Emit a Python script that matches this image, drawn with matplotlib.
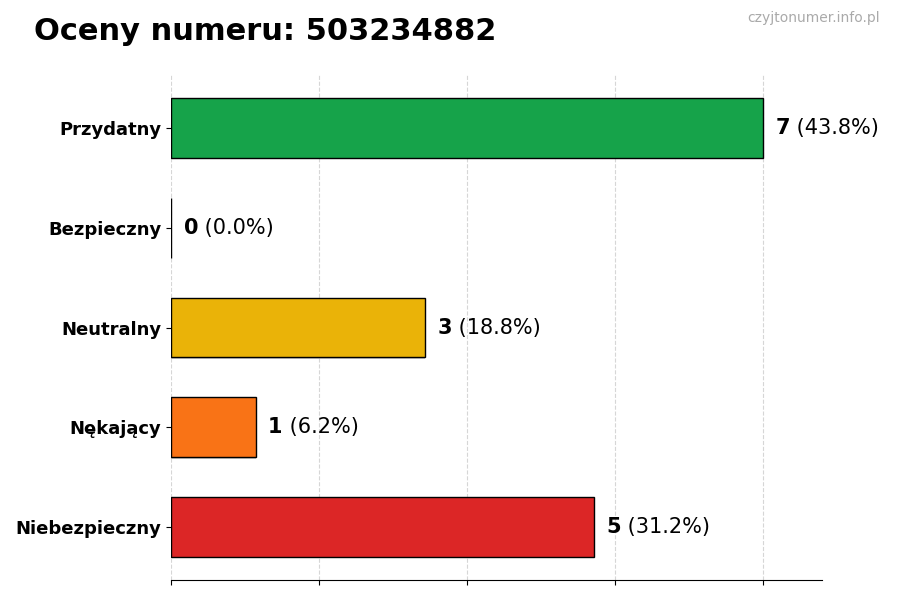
import matplotlib
matplotlib.use("Agg")
import matplotlib.pyplot as plt
import matplotlib.patheffects as pe

categories = ["Przydatny", "Bezpieczny", "Neutralny", "Nękający", "Niebezpieczny"]
counts = [7, 0, 3, 1, 5]
colors = ["#16a34a", "#16a34a", "#eab308", "#f97316", "#dc2626"]
title = "Oceny numeru: 503234882"
watermark = "czyjtonumer.info.pl"

total = sum(counts)
fig = plt.figure(figsize=(9, 6), dpi=100)
ax = fig.add_axes([0.19, 0.0333, 0.723, 0.8417])

ypos = list(range(len(categories)))[::-1]
bars = ax.barh(ypos, counts, height=0.6, color=colors, edgecolor="black", linewidth=1, zorder=3)
for b in bars:
    b.set_path_effects([pe.SimplePatchShadow(offset=(0, -1), shadow_rgbFace="#999999", alpha=0.5), pe.Normal()])

xmax = max(counts) * 1.1
ax.set_xlim(0, xmax)
ax.set_xticks([0, 1.75, 3.5, 5.25, 7])
ax.set_xticklabels([])
ax.set_yticks(ypos)
ax.set_yticklabels(categories, fontsize=13, fontweight="bold")
ax.grid(axis="x", linestyle="--", color="#cccccc", alpha=0.8, zorder=0)
for s in ["top", "right", "left"]:
    ax.spines[s].set_visible(False)

for y, c in zip(ypos, counts):
    pct = c / total * 100
    x0 = c + 0.15
    t = ax.text(x0, y, f"{c}", fontsize=15, fontweight="bold", va="center", ha="left", zorder=4)
    fig.canvas.draw()
    bb = t.get_window_extent()
    inv = ax.transData.inverted()
    xr = inv.transform((bb.x1, bb.y0))[0]
    ax.text(xr, y, f" ({pct:.1f}%)", fontsize=15, va="center", ha="left", zorder=4)

fig.text(0.038, 0.948, title, fontsize=22, fontweight="bold", va="center", ha="left")
fig.text(0.978, 0.97, watermark, fontsize=10, color="#aaaaaa", va="center", ha="right")

fig.savefig("out.png", dpi=100)
